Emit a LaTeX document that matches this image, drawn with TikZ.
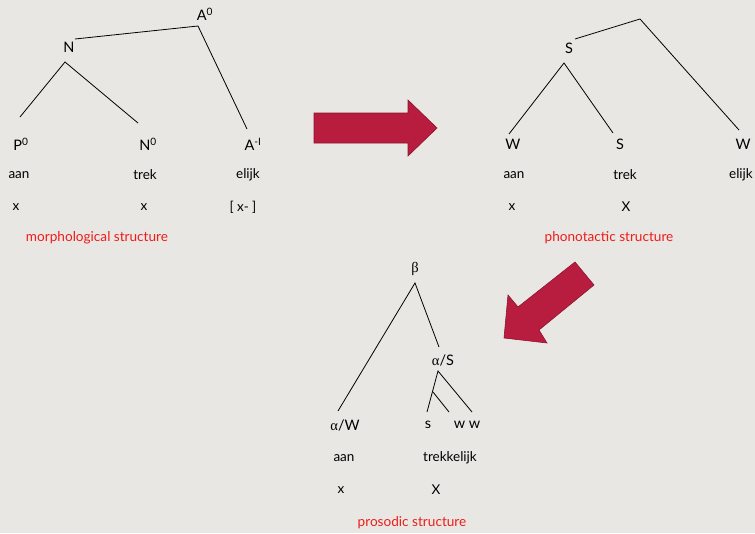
\documentclass[tikz,border=0pt]{standalone}
\usepackage{fontspec}
\setmainfont{Lato}
\newfontfamily\grk{Liberation Serif}
\definecolor{paper}{RGB}{233,231,227}
\definecolor{crimson}{RGB}{184,29,64}
\definecolor{crimsonedge}{RGB}{140,20,45}
\definecolor{capred}{RGB}{238,28,28}
\begin{document}
\begin{tikzpicture}[x=1pt,y=-1pt,
  lbl/.style={inner sep=0pt,font=\fontsize{14.5}{17}\selectfont},
  word/.style={inner sep=0pt,font=\fontsize{13.5}{16}\selectfont},
  caption/.style={inner sep=0pt,text=capred,font=\fontsize{13.6}{16}\selectfont},
  branch/.style={draw=black,line width=0.8pt},
  bigarrow/.style={fill=crimson,draw=crimsonedge,line width=0.6pt,line join=miter}]
% page
\fill[paper] (0,0) rectangle (755,533);
\useasboundingbox (0,0) rectangle (755,533);

% ---------- morphological structure ----------
\node[lbl] (mA0) at (205,14) {A\textsuperscript{0}};
\node[lbl] (mN) at (69,47) {N};
\node[lbl] (mP0) at (21,144) {P\textsuperscript{0}};
\node[lbl] (mN0) at (148,144) {N\textsuperscript{0}};
\node[lbl] (mAm) at (253,144) {A\textsuperscript{-I}};
\node[word] (m1) at (19,175) {aan};
\node[word] (m2) at (145,175) {trek};
\node[word] (m3) at (248,175) {elijk};
\node[word] (m4) at (16,207) {x};
\node[word] (m5) at (144,207) {x};
\node[word] (m6) at (243,207) {[ x- ]};
\node[caption] (mcap) at (97,238) {morphological structure};
\coordinate (mtop) at (198,26);
\coordinate (nleft) at (75,39);
\coordinate (napex) at (65,62);
\coordinate (pend) at (20,117);
\coordinate (nend) at (138,123);
\coordinate (aend) at (247,129);
\draw[branch] (nleft) -- (mtop) -- (aend);
\draw[branch] (pend) -- (napex) -- (nend);

% ---------- phonotactic structure ----------
\node[lbl] (pS) at (569,48) {S};
\node[lbl] (pW1) at (513,144) {W};
\node[lbl] (pS2) at (620,144) {S};
\node[lbl] (pW2) at (743,144) {W};
\node[word] (p1) at (514,175) {aan};
\node[word] (p2) at (625,175) {trek};
\node[word] (p3) at (741,175) {elijk};
\node[word] (p4) at (512,207) {x};
\node[word] (p5) at (626,207) {X};
\node[caption] (pcap) at (609,238) {phonotactic structure};
\coordinate (ptop) at (640,19);
\coordinate (sleft) at (575,39);
\coordinate (sapex) at (564,63);
\coordinate (w1end) at (509,134);
\coordinate (s2end) at (613,133);
\coordinate (w2end) at (739,130);
\draw[branch] (sleft) -- (ptop) -- (w2end);
\draw[branch] (w1end) -- (sapex) -- (s2end);

% ---------- prosodic structure ----------
\node[lbl] (beta) at (415,269) {\grk β};
\node[lbl] (aS) at (443,360) {{\grk α}/S};
\node[lbl] (aW) at (345,425) {{\grk α}/W};
\node[lbl] (ss) at (428,425) {s};
\node[lbl] (ww) at (467,425) {w w};
\node[word] (r1) at (344,458) {aan};
\node[word] (r2) at (450,458) {trekkelijk};
\node[word] (r3) at (341,490) {x};
\node[word] (r4) at (436,490) {X};
\node[caption] (rcap) at (412,523) {prosodic structure};
\coordinate (bapex) at (415,283);
\coordinate (awend) at (338,411);
\coordinate (asend) at (439,347);
\coordinate (asapex) at (438,371);
\coordinate (send) at (427,412);
\coordinate (mid) at (433,392);
\coordinate (w1tip) at (449,412);
\coordinate (w2tip) at (472,412);
\draw[branch] (awend) -- (bapex) -- (asend);
\draw[branch] (send) -- (asapex) -- (w2tip);
\draw[branch] (mid) -- (w1tip);

% ---------- block arrows ----------
\draw[bigarrow] (314,113) -- (408,113) -- (408,100) -- (437,128)
  -- (408,156) -- (408,143) -- (314,143) -- cycle;
\draw[bigarrow] (575,262) -- (518,307) -- (508,295) -- (504,338)
  -- (547,343) -- (539,330) -- (594,285) -- cycle;
\end{tikzpicture}
\end{document}
